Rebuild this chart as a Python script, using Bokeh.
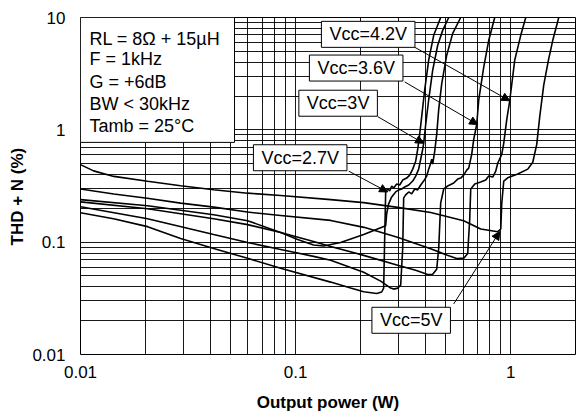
import math
from bokeh.plotting import figure
from bokeh.models import FixedTicker, Label, BoxAnnotation, Arrow, NormalHead, Range1d, Title
from bokeh.embed import file_html
from bokeh.resources import INLINE

# ---------------- data ----------------
# Output power (W) and THD+N (%) for each supply voltage
p_27 = [0.01, 0.01424, 0.0205, 0.0292, 0.0416, 0.0598, 0.0852, 0.1455, 0.1803, 0.2072,
        0.2382, 0.2512, 0.2566, 0.2594, 0.2622, 0.2679, 0.2736, 0.2796, 0.2857, 0.295,
        0.3047, 0.3146, 0.3284, 0.3391, 0.3502, 0.3615, 0.3693, 0.3773, 0.3855, 0.3981,
        0.4155, 0.4384, 0.4725]
thd_27 = [0.1827, 0.1618, 0.1375, 0.1077, 0.0879, 0.0718, 0.0585, 0.0441, 0.039, 0.0362,
          0.0349, 0.036, 0.039, 0.1077, 0.2799, 0.2975, 0.2857, 0.3162, 0.3036, 0.3293,
          0.3227, 0.3572, 0.3721, 0.3954, 0.4467, 0.5254, 0.6708, 0.9095, 1.311, 2.269,
          4.176, 6.94, 10]

p_3 = [0.01, 0.0205, 0.0416, 0.0598, 0.0852, 0.1212, 0.1455, 0.2072, 0.2486, 0.2766,
       0.2857, 0.2982, 0.3079, 0.3146, 0.3179, 0.3249, 0.3355, 0.3464, 0.3577, 0.3693,
       0.3814, 0.3938, 0.4067, 0.4155, 0.4245, 0.4291, 0.4337, 0.4431, 0.4527, 0.4625,
       0.4776, 0.5039, 0.5373, 0.5853]
thd_3 = [0.2065, 0.1618, 0.1169, 0.0993, 0.0862, 0.0747, 0.0689, 0.054, 0.045, 0.039,
         0.0382, 0.039, 0.0414, 0.0879, 0.2478, 0.2634, 0.2799, 0.2688, 0.2975, 0.2916,
         0.3227, 0.35, 0.3875, 0.4467, 0.5044, 0.5472, 0.4943, 0.644, 0.9095, 1.511,
         2.563, 4.62, 7.224, 10]

p_36 = [0.01, 0.0205, 0.0416, 0.0598, 0.0852, 0.1212, 0.1455, 0.2072, 0.2982, 0.3615,
        0.4111, 0.4337, 0.4527, 0.4625, 0.4725, 0.488, 0.5093, 0.5431, 0.5668, 0.5853,
        0.6044, 0.6241, 0.6377, 0.6585, 0.6728, 0.6948, 0.71, 0.7489, 0.7902, 0.8426]
thd_36 = [0.2284, 0.1982, 0.1618, 0.1432, 0.1217, 0.1014, 0.0916, 0.0763, 0.0622, 0.0562,
          0.0515, 0.0518, 0.0574, 0.0879, 0.2239, 0.2975, 0.3162, 0.3361, 0.3645, 0.3721,
          0.3954, 0.4377, 0.4558, 0.6056, 0.8217, 1.115, 1.852, 3.622, 6.266, 10]

p_42 = [0.01, 0.01428, 0.02043, 0.0292, 0.04169, 0.05962, 0.0851, 0.1455, 0.2078, 0.2972,
        0.4245, 0.5077, 0.5649, 0.6065, 0.631, 0.6447, 0.6517, 0.6803, 0.725, 0.765,
        0.7902, 0.8248, 0.8516, 0.87, 0.9081, 0.9277, 0.9581, 0.9893, 1.0437, 1.113, 1.1744]
thd_42 = [0.2975, 0.2688, 0.2462, 0.2225, 0.2051, 0.1853, 0.1729, 0.1562, 0.1355, 0.1106,
          0.0874, 0.0763, 0.0713, 0.0722, 0.0794, 0.1618, 0.2975, 0.3293, 0.343, 0.3572,
          0.3875, 0.3797, 0.4288, 0.5044, 0.6056, 0.7577, 1.234, 1.815, 4.176, 6.94, 10]

p_5 = [0.01, 0.0115, 0.0143, 0.0205, 0.0292, 0.0416, 0.0598, 0.0852, 0.1455, 0.207,
       0.298, 0.4245, 0.604, 0.725, 0.87, 0.899, 0.908, 0.928, 0.968, 1.078,
       1.2, 1.266, 1.321, 1.364, 1.424, 1.497, 1.568, 1.672]
thd_5 = [0.49, 0.431, 0.385, 0.348, 0.318, 0.293, 0.273, 0.260, 0.239, 0.225,
         0.204, 0.184, 0.155, 0.131, 0.124, 0.131, 0.22, 0.35, 0.374, 0.404,
         0.447, 0.515, 0.742, 1.311, 2.512, 4.176, 6.266, 10]

# sixth (unlabelled) curve with the rounded minimum near 0.12 W
p_extra = [0.01, 0.0205, 0.0416, 0.0598, 0.0852, 0.1022, 0.1212, 0.135, 0.1619, 0.2072,
           0.2622, 0.265, 0.2707, 0.2796, 0.2918, 0.3014, 0.3112, 0.3214, 0.3355, 0.3502,
           0.3615, 0.3733, 0.3814, 0.3896, 0.3938, 0.4024, 0.4155, 0.4337, 0.4576, 0.4827, 0.5148]
thd_extra = [0.2393, 0.2107, 0.1754, 0.1553, 0.1217, 0.1055, 0.0944, 0.0925, 0.0993, 0.1169,
             0.1403, 0.179, 0.2194, 0.2529, 0.2799, 0.2916, 0.2975, 0.3099, 0.3227, 0.35,
             0.3875, 0.4467, 0.5472, 0.6708, 0.7577, 1.115, 1.852, 3.406, 5.66, 7.68, 10]

x_major = [0.01, 0.1, 1]
x_labels = ["0.01", "0.1", "1"]
y_major = [0.01, 0.1, 1, 10]
y_labels = ["0.01", "0.1", "1", "10"]

conditions = ["RL = 8\u03a9 + 15\u00b5H", "F = 1kHz", "G = +6dB", "BW < 30kHz", "Tamb = 25\u00b0C"]
vcc_labels = ["Vcc=4.2V", "Vcc=3.6V", "Vcc=3V", "Vcc=2.7V", "Vcc=5V"]

# ---------------- figure ----------------
FONT = "Liberation Sans"

p = figure(width=576, height=414, x_axis_type="log", y_axis_type="log",
           x_range=Range1d(0.01, 2), y_range=Range1d(0.01, 10),
           output_backend="svg", toolbar_location=None,
           min_border_left=80, min_border_right=1, min_border_top=17, min_border_bottom=57)
p.background_fill_color = "white"
p.border_fill_color = "white"
p.outline_line_color = "black"
p.outline_line_width = 1
p.outline_line_alpha = 1

p.xaxis.ticker = FixedTicker(ticks=x_major, minor_ticks=[])
p.yaxis.ticker = FixedTicker(ticks=y_major, minor_ticks=[])
p.xaxis.major_label_overrides = dict(zip(x_major, x_labels))
p.yaxis.major_label_overrides = dict(zip(y_major, y_labels))
for ax in (p.xaxis, p.yaxis):
    ax.axis_line_color = None
    ax.major_tick_line_color = None
    ax.minor_tick_line_color = None
    ax.major_label_text_font = FONT
    ax.major_label_text_font_size = "17px"
    ax.major_label_text_color = "black"
p.xaxis.major_label_standoff = 5
p.yaxis.major_label_standoff = 9

p.xaxis.axis_label = "Output power (W)"
p.xaxis.axis_label_text_font = FONT
p.xaxis.axis_label_text_font_style = "bold"
p.xaxis.axis_label_text_font_size = "17px"
p.xaxis.axis_label_text_color = "black"
p.xaxis.axis_label_standoff = 12

# y-axis title as a side title, placed a little below the frame centre like the reference
p.add_layout(Title(text="THD + N (%)", align="left", offset=109, standoff=6,
                   text_font=FONT, text_font_style="bold", text_font_size="17px",
                   text_color="black"), "left")

# grid at every 1..9 x decade
x_grid = [m * 10.0 ** e for e in (-2, -1, 0) for m in range(1, 10)] + [2.0]
y_grid = [m * 10.0 ** e for e in (-2, -1, 0) for m in range(1, 10)] + [10.0]
p.xgrid.ticker = FixedTicker(ticks=x_grid)
p.ygrid.ticker = FixedTicker(ticks=y_grid)
for g in (p.xgrid, p.ygrid):
    g.grid_line_color = "black"
    g.grid_line_width = 1
    g.grid_line_alpha = 0.9

series = [(p_27, thd_27), (p_3, thd_3), (p_36, thd_36), (p_42, thd_42), (p_5, thd_5), (p_extra, thd_extra)]
for xs, ys in series:
    p.line(xs, ys, line_color="black", line_width=1.6)

# conditions box
p.add_layout(BoxAnnotation(left=0.01, right=0.052, bottom=0.773, top=10,
                           fill_color="white", fill_alpha=1, line_color="black",
                           line_width=1, line_alpha=1))
cond_y = [6.395, 4.261, 2.67, 1.707, 1.092]
for txt, yy in zip(conditions, cond_y):
    p.add_layout(Label(x=0.01101, y=yy, text=txt, text_align="left", text_baseline="middle",
                       text_font=FONT, text_font_size="18px", text_color="black"))

# Vcc callouts: label centre, arrow start, arrow end
label_pos = [(0.2174, 7.08), (0.1912, 3.548), (0.1576, 1.725), (0.105, 0.5643), (0.3445, 0.02016)]
arrow_start = [(0.3577, 5.436), (0.3214, 2.67), (0.2407, 1.311), (0.1765, 0.4288), (0.5431, 0.0282)]
arrow_end = [(0.9893, 1.815), (0.7021, 1.115), (0.3938, 0.7577), (0.2679, 0.2799), (0.889, 0.1242)]

for (xs, ys), (xe, ye) in zip(arrow_start, arrow_end):
    p.add_layout(Arrow(end=NormalHead(size=8, fill_color="black", line_color="black", line_width=1),
                       x_start=xs, y_start=ys, x_end=xe, y_end=ye,
                       line_color="black", line_width=1))

for txt, (lx, ly) in zip(vcc_labels, label_pos):
    p.add_layout(Label(x=lx, y=ly, text=txt, text_align="center", text_baseline="middle",
                       text_font=FONT, text_font_size="18px", text_color="black",
                       background_fill_color="white", background_fill_alpha=1,
                       border_line_color="black", border_line_width=1,
                       padding=dict(left=8, right=8, top=3, bottom=3)))

open("out.html", "w").write(file_html(p, INLINE))
